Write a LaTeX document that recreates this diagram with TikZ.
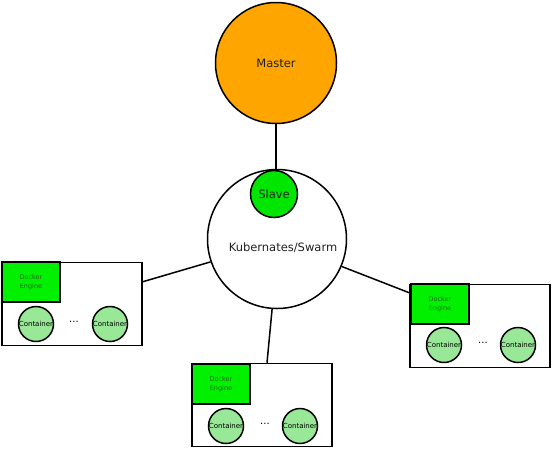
\documentclass[tikz,border=0pt]{standalone}
\usepackage{fontspec}
\setmainfont{DejaVu Sans}
\usetikzlibrary{calc}
\definecolor{masterc}{HTML}{FFA500}
\definecolor{slavec}{HTML}{00E600}
\definecolor{enginec}{HTML}{00F000}
\definecolor{contc}{HTML}{98E898}
\definecolor{enginetext}{HTML}{1E6E1E}
\definecolor{labeltext}{HTML}{222222}
\begin{document}
\begin{tikzpicture}[x=1pt,y=-1pt,line width=1.5pt,
  bigcirc/.style={circle,draw=black,inner sep=0pt,text=labeltext,font=\fontsize{11.5}{13}\selectfont},
  hostbox/.style={rectangle,draw=black,fill=white,minimum width=140pt,minimum height=83pt,inner sep=0pt},
  engine/.style={rectangle,draw=black,fill=enginec,minimum width=58pt,minimum height=40pt,inner sep=0pt,align=center,font=\fontsize{6.5}{8.5}\selectfont,text=enginetext},
  cont/.style={circle,draw=black,fill=contc,minimum size=35pt,inner sep=0pt,font=\fontsize{7}{8}\selectfont},
  dots/.style={font=\fontsize{10}{11}\selectfont},
  link/.style={draw=black,line width=1.5pt}]
\useasboundingbox (0,0) rectangle (554,451);
% master and cluster
\node[bigcirc,fill=masterc,minimum size=121pt] (master) at (276,63) {Master};
\node[bigcirc,fill=white,minimum size=139pt] (k8s) at (277,239) {};
\node[text=labeltext,font=\fontsize{11.5}{13}\selectfont] (k8slabel) at (283,248) {Kubernates/Swarm};
\node[bigcirc,fill=slavec,minimum size=47pt] (slave) at (274,194) {Slave};
\draw[link] (master.south) -- (k8s.north -| master.south);
% left host
\node[hostbox] (lbox) at (72,304) {};
\node[engine] (leng) at (31,282) {Docker\\Engine};
\node[cont] (lc1) at (36,324) {Container};
\node[dots] (ld) at (74,322) {...};
\node[cont] (lc2) at (110,324) {Container};
% right host
\node[hostbox] (rbox) at (480,326) {};
\node[engine] (reng) at (440,304) {Docker\\Engine};
\node[cont] (rc1) at (444,345) {Container};
\node[dots] (rd) at (483,343) {...};
\node[cont] (rc2) at (518,345) {Container};
% bottom host
\node[hostbox] (bbox) at (262,405) {};
\node[engine] (beng) at (221,384) {Docker\\Engine};
\node[cont] (bc1) at (226,426) {Container};
\node[dots] (bd) at (265,424) {...};
\node[cont] (bc2) at (300,426) {Container};
% connectors
\draw[link] (k8s.199) -- ($(lbox.north east)+(0,20)$);
\draw[link] (k8s.337) -- ($(rbox.north west)+(0,9)$);
\draw[link] (k8s.266) -- ($(bbox.north)+(5,0)$);
\end{tikzpicture}
\end{document}
